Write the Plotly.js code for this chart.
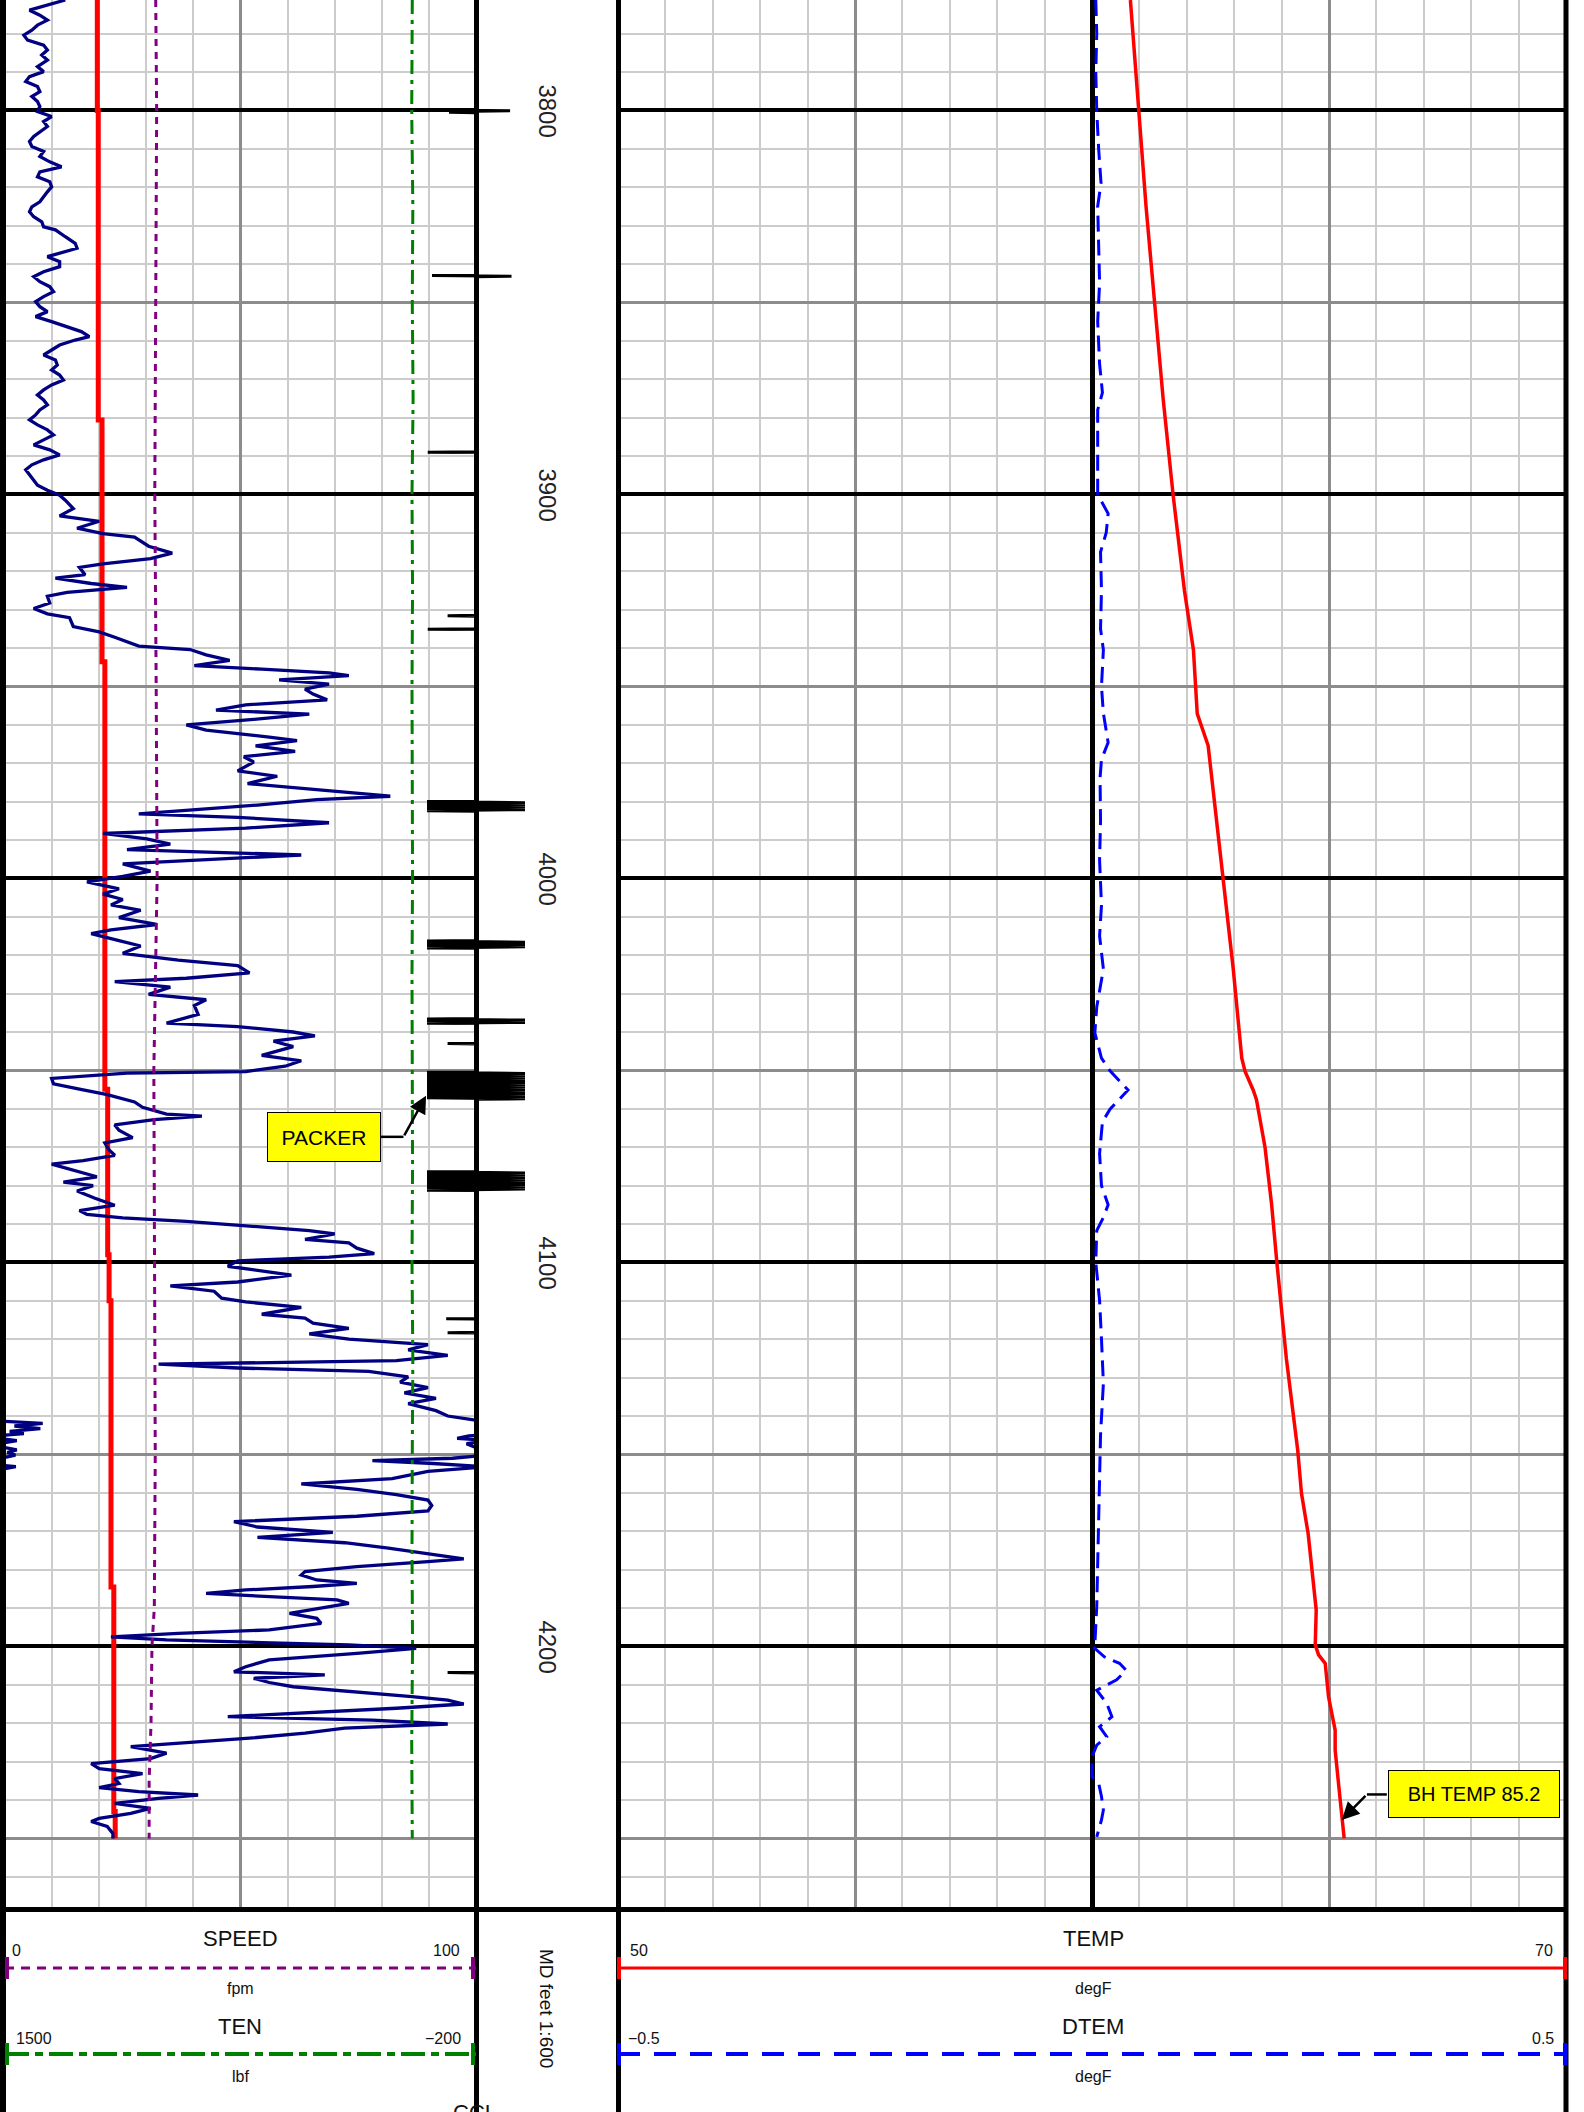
<!DOCTYPE html>
<html><head><meta charset="utf-8">
<script src="https://cdn.plot.ly/plotly-3.0.1.min.js"></script>
<style>html,body{margin:0;padding:0;background:#fff;}#chart{width:1584px;height:2112px;}</style>
</head><body><div id="chart"></div>
<script>
const depthTicks = [3800, 3900, 4000, 4100, 4200];

// navy curve in left track (0-100 track units)
const grDepth = [3771.25,3772.6,3773.9,3775.2,3776.5,3777.8,3779.1,3780.4,3781.7,3783.0,3784.3,3785.6,3786.9,3788.6,3789.9,3791.2,3792.5,3793.8,3795.1,3796.4,3797.7,3799.0,3800.3,3801.6,3802.9,3804.2,3805.5,3806.8,3808.1,3809.4,3810.7,3812.0,3813.4,3814.7,3816.0,3817.3,3818.6,3819.9,3821.2,3822.5,3823.8,3825.1,3826.4,3827.7,3829.0,3830.3,3831.1,3832.9,3834.6,3835.9,3837.2,3838.1,3839.4,3840.7,3842.0,3843.3,3844.6,3845.9,3847.2,3848.5,3849.8,3851.1,3852.4,3853.7,3855.0,3856.3,3857.6,3858.9,3859.8,3861.1,3862.4,3863.7,3865.0,3866.3,3867.6,3868.9,3870.2,3871.5,3872.8,3874.1,3875.4,3876.7,3878.0,3879.3,3880.6,3881.9,3883.2,3884.5,3885.8,3887.1,3888.4,3889.7,3891.0,3892.3,3893.6,3894.9,3896.3,3897.6,3898.9,3900.2,3901.5,
3903.7,3905.6,3907.0,3908.8,3910.2,3911.1,3913.5,3915.3,3916.7,3918.1,3919.0,3920.9,3921.8,3923.2,3924.2,3925.5,3926.5,3928.3,3929.7,3931.1,3932.1,3934.4,3935.8,3937.2,3939.5,3940.4,3941.8,3943.2,3944.6,3945.5,3946.5,3947.2,3948.3,3949.4,3950.7,3952.0,3953.5,3954.8,3956.2,3957.2,3958.6,3960.0,3961.4,3963.2,3964.1,3965.5,3966.9,3968.3,3969.7,3972.0,3973.4,3975.3,3977.2,3978.6,3979.5,3980.9,3983.2,3984.1,3985.5,3986.9,3988.3,3989.7,3991.1,3992.5,3993.9,3994.8,3996.2,3998.1,3999.5,4000.9,4002.7,4004.1,4005.5,4006.9,4008.3,4010.2,4012.0,4013.4,4014.4,4016.2,4017.6,4019.5,4021.3,4022.7,4024.6,4026.0,4026.9,4028.3,4030.2,4031.6,
4033.1,4035.4,4037.7,4038.6,4040.0,4041.0,4042.4,4043.8,4046.1,4047.5,4048.9,4050.3,4050.7,4052.1,4053.5,4054.9,4056.3,4058.2,4059.6,4061.4,4061.9,4062.8,4064.2,4065.6,4067.5,4068.9,4070.7,4072.1,4073.5,4074.4,4076.3,4077.7,4079.1,4080.0,4081.4,4083.3,4085.1,4086.5,4087.5,4088.4,4089.3,4090.3,4091.7,4092.6,4094.0,4094.9,4096.3,4097.7,4098.6,4099.6,4101.0,4103.3,4105.1,4106.1,4107.5,4109.3,4110.3,4111.7,4113.5,4114.5,4115.8,4117.2,4118.6,4120.0,4121.4,4122.8,4124.2,4125.6,4126.5,4127.5,4128.4,4129.8,4131.2,4132.6,4134.0,4135.4,4136.8,4138.6,4140.0,
4141.0,4141.9,4142.6,4143.3,4144.0,4144.6,4145.2,4145.8,4146.4,4147.2,4148.0,4148.8,4149.5,4150.2,4151.0,4151.6,4152.3,4153.2,4154.4,4156.3,4157.7,4159.1,4160.5,4161.9,4163.3,4164.7,4166.1,4167.5,4168.9,4170.3,4171.6,4173.0,4174.4,4175.8,4177.2,
4177.9,4179.2,4180.5,4181.4,4182.7,4183.6,4184.4,4185.3,4186.2,4187.1,4187.9,4188.8,4190.1,4191.4,4192.7,4194.0,4195.7,4196.6,4197.5,4198.3,4199.0,4199.6,4200.5,4201.8,4203.5,4205.3,4206.6,4207.4,4208.3,4209.4,4210.5,4211.8,4213.1,4214.0,4215.0,4216.1,4217.4,4218.3,4219.2,4220.2,4221.3,4222.6,4223.9,4225.2,4226.1,4227.8,4229.2,4230.5,4231.8,4233.1,4234.4,4235.7,4236.8,4237.8,4238.7,4239.6,4240.9,4242.2,4243.5,4244.8,4245.6,4246.9,4248.7,4250.0];
const grValue = [12.8,9.0,5.2,7.4,9.0,6.9,5.7,4.0,4.8,8.2,9.0,7.8,9.0,6.9,8.2,5.2,4.4,6.9,7.4,5.7,6.9,7.4,6.9,9.9,8.2,9.0,7.4,6.1,5.2,5.7,8.2,7.4,9.5,12.0,7.4,6.9,9.5,9.9,9.0,8.2,7.4,5.7,5.2,6.1,7.8,8.2,10.7,12.8,14.9,15.3,11.6,9.0,11.6,11.6,8.2,6.1,7.4,9.5,10.3,8.2,6.5,7.4,9.0,6.5,9.9,12.8,16.2,17.9,14.9,11.6,9.9,8.2,10.7,11.1,9.9,11.6,12.4,9.9,8.2,6.9,8.2,9.0,7.4,6.5,5.2,6.9,9.0,10.3,8.2,6.1,9.5,11.6,8.2,5.7,4.4,5.2,6.1,6.9,9.0,11.6,12.8,
14.5,11.6,20.0,15.3,20.8,27.5,30.5,35.5,30.9,20.8,15.8,17.0,10.7,18.3,25.9,13.2,9.0,9.5,6.1,9.0,13.7,14.5,20.0,23.3,28.4,39.3,42.7,47.7,40.2,54.5,68.8,73.0,58.2,68.8,63.7,65.4,68.4,51.1,44.8,64.6,52.8,38.5,42.7,56.1,62.0,53.2,61.6,50.7,52.8,49.4,57.8,51.5,67.9,81.8,66.2,53.6,28.4,49.4,68.8,51.1,20.8,30.1,35.1,25.9,62.9,46.9,25.0,30.9,25.0,17.4,24.2,20.8,25.0,22.5,28.8,24.2,32.2,22.5,18.3,24.2,28.8,25.0,36.8,49.4,51.9,38.5,23.3,35.1,30.5,42.7,
40.2,41.0,34.3,49.4,61.2,65.8,57.0,61.2,54.5,62.9,59.5,51.1,25.9,9.9,10.3,15.8,21.7,27.5,29.2,34.3,41.8,31.7,23.3,24.2,27.1,21.2,22.1,23.3,16.6,9.9,15.3,19.5,12.4,18.7,15.3,19.1,23.3,15.8,17.4,25.0,38.5,49.4,64.6,70.0,63.7,73.0,74.7,78.4,68.8,49.4,47.3,60.8,49.4,35.1,44.4,46.0,51.1,62.9,54.5,63.7,65.4,73.0,64.6,73.0,89.8,85.6,94.0,83.1,32.6,49.4,77.2,85.6,83.9,89.8,84.8,91.5,85.6,91.5,94.0,
99.5,108.0,102.0,107.5,101.0,104.0,98.5,96.0,102.5,98.0,99.5,102.5,100.5,102.2,95.0,78.0,90.0,102.3,89.8,82.2,62.9,74.7,83.1,89.8,90.6,89.8,74.7,48.6,53.6,69.6,53.6,72.1,81.4,89.8,97.4,
89.8,74.7,63.7,62.9,66.2,74.7,65.4,51.1,42.7,58.7,70.5,73.0,66.2,60.4,66.2,67.1,56.1,36.8,22.5,34.3,54.5,73.0,87.3,74.7,56.1,51.1,48.6,67.9,52.8,56.1,61.2,74.7,86.4,94.0,97.4,83.1,62.9,47.3,78.0,94.0,72.1,63.7,51.9,35.9,26.7,34.3,30.9,18.3,20.0,29.2,23.3,24.2,20.0,28.4,41.0,32.6,23.3,30.9,26.7,20.0,18.3,21.7,22.9,22.9];

// wrapped part of the navy curve (values above 100 re-enter from the left)
const grWrapDepth = [4141.4,4141.9,4142.6,4143.3,4144.0,4144.6,4145.0,null,4146.0,4146.4,4146.9,null,4148.2,4148.8,4149.5,4150.2,4150.8,null,4152.9,4153.2,4153.7];
const grWrapValue = [0,8.0,2.0,7.5,1.0,4.0,0,null,0,2.5,0,null,0,2.5,0.5,2.2,0,null,0,2.3,0];

// thick red curve in left track (0-100 track units)
const redDepth = [3771.25,3800,3880.6,3943.6,4054.9,4098,4110,4184.5,4243,4250];
const redValue = [19.6,19.8,20.6,21.2,21.8,22.1,22.5,23.1,23.4,23.4];

// SPEED (fpm, 0-100)
const speedDepth = [3771.25,3800,3850,3900,3950,4000,4050,4100,4150,4190,4200,4220,4235,4250];
const speedValue = [32.0,32.2,32.0,31.8,32.1,32.3,31.6,31.8,31.9,31.7,31.2,31.0,30.6,30.6];

// TEN (lbf, 1500 .. -200)
const tenDepth = [3771.25,3800,3825,3850,3875,3900,3925,3950,3975,4000,4025,4050,4075,4100,4125,4150,4175,4200,4225,4250];
const tenValue = [30,32,28,30,27,31,29,31,30,29,31,30,29,31,28,30,31,29,32,30];

// TEMP (degF, 50 .. 70)
const tempDepth = [3771.25,3800,3825,3850,3875,3900,3925,3940.5,3957.1,3965.4,3999.8,4023.6,4046.8,4050.3,4055.1,4057.6,4070,4085,4100,4125,4148.9,4160.2,4170.6,4183.6,4190.5,4199.6,4202.2,4204.4,4213.1,4221.8,4227,4235.6,4244.3,4250];
const tempValue = [60.81,60.98,61.14,61.32,61.50,61.71,61.95,62.14,62.22,62.45,62.77,62.98,63.16,63.23,63.40,63.47,63.65,63.79,63.90,64.10,64.34,64.42,64.56,64.67,64.73,64.71,64.78,64.92,64.99,65.13,65.13,65.20,65.27,65.32];

// DTEM (degF, -0.5 .. 0.5)
const dtemDepth = [3771.25,3780,3790,3800,3810,3818.9,3825,3835,3845,3855,3866,3873.5,3878,3890,3900,3905,3910,3915,3925,3935,3940.5,3950,3957,3964.6,3969,3973.8,3985,3995.3,4007,4015,4023.6,4033.5,4040.2,4046.8,4050.1,4055.1,4057.6,4060.1,4063.4,4071.7,4080,4085,4088.3,4091.7,4100,4109.9,4120,4131.5,4145,4156.4,4170,4189.6,4199.6,4200.1,4202.7,4204.4,4206.2,4208.7,4211.4,4214.8,4218.3,4220.9,4223.5,4225.7,4228.7,4233.9,4235.6,4239.1,4242.6,4245.2,4249.6];
const dtemValue = [0.004,0.005,0.004,0.005,0.007,0.0095,0.006,0.007,0.008,0.006,0.008,0.011,0.006,0.006,0.006,0.017,0.015,0.009,0.010,0.009,0.012,0.010,0.012,0.017,0.010,0.0085,0.009,0.008,0.010,0.008,0.012,0.005,0.003,0.010,0.019,0.038,0.029,0.019,0.011,0.008,0.010,0.017,0.012,0.005,0.004,0.008,0.010,0.012,0.009,0.008,0.007,0.005,0.003,0.001,0.013,0.029,0.036,0.026,0.005,0.0155,0.021,0.008,0.0155,0.005,0.0,0.0,0.007,0.010,0.012,0.010,0.005];

// CCL (collar marks, arbitrary units, centred on the track border)
const cclDepth = [3771.25,
 3799.8,3799.9,3800.0,3800.1,3800.2,3800.5,3800.6,
 3842.9,3843.0,3843.1,3843.2,3843.3,
 3888.9,3889.0,3889.1,
 3931.5,3931.6,3931.7,
 3935.0,3935.1,3935.2,
 3979.9,3980.0,3980.3,3980.6,3980.9,3981.2,3981.5,3981.8,3982.1,3982.4,3982.5,
 4016.2,4016.3,4016.6,4016.9,4017.2,4017.5,4017.8,4018.1,4018.2,
 4036.5,4036.6,4036.9,4037.2,4037.5,4037.7,4037.8,
 4042.9,4043.0,4043.1,
 4050.4,4050.5,4050.8,4051.1,4051.4,4051.7,4052.0,4052.3,4052.6,4052.9,4053.2,4053.5,4053.8,4054.1,4054.4,4054.7,4055.0,4055.3,4055.6,4055.9,4056.2,4056.5,4056.8,4057.1,4057.4,4057.5,
 4076.3,4076.4,4076.7,4077.0,4077.3,4077.6,4077.9,4078.2,4078.5,4078.8,4079.1,4079.4,4079.7,4080.0,4080.3,4080.6,4080.9,4081.2,4081.3,
 4114.6,4114.7,4114.8,
 4118.2,4118.3,4118.4,
 4206.7,4206.8,4206.9,
 4250];
const cclValue = [0,
 0,-2.5,0,2.4,0,-1.9,0,
 0,-3.1,0,2.5,0,
 0,-3.4,0,
 0,-2.0,0,
 0,-3.4,0,
 0,-3.45,3.45,-3.45,3.45,-3.45,3.45,-3.45,3.45,-3.45,0,
 0,-3.45,3.45,-3.45,3.45,-3.45,3.45,-3.45,0,
 0,-3.45,3.45,-3.45,3.45,-3.45,0,
 0,-2.0,0,
 0,-3.45,3.45,-3.45,3.45,-3.45,3.45,-3.45,3.45,-3.45,3.45,-3.45,3.45,-3.45,3.45,-3.45,3.45,-3.45,3.45,-3.45,3.45,-3.45,3.45,-3.45,3.45,0,
 0,-3.45,3.45,-3.45,3.45,-3.45,3.45,-3.45,3.45,-3.45,3.45,-3.45,3.45,-3.45,3.45,-3.45,3.45,-3.45,0,
 0,-2.1,0,
 0,-2.0,0,
 0,-2.0,0,
 0];

// ---------- LAYOUT ----------
const W = 1584, H = 2112;
const px = v => v / W;
const py = v => 1 - v / H;
const yRange = [4267.86, 3771.25];
const yDom = [py(1907), 1];
const FONT = 'Liberation Sans, Arial, sans-serif';
const LIGHT = '#cccccc', DARK = '#8c8c8c';

const hidden = {showticklabels:false, ticks:'', zeroline:false, showline:false, fixedrange:true};

const traces = [
  {x:redValue, y:redDepth, xaxis:'x', yaxis:'y', mode:'lines', line:{color:'#ff0000', width:5, shape:'vh'}},
  {x:grValue, y:grDepth, xaxis:'x', yaxis:'y', mode:'lines', line:{color:'#000080', width:3.3}},
  {x:grWrapValue, y:grWrapDepth, xaxis:'x', yaxis:'y', mode:'lines', connectgaps:false, line:{color:'#000080', width:3.3}},
  {x:tenValue, y:tenDepth, xaxis:'x3', yaxis:'y', mode:'lines', line:{color:'#008000', width:3, dash:'14px,6px,4px,6px'}},
  {x:speedValue, y:speedDepth, xaxis:'x', yaxis:'y3', mode:'lines', line:{color:'#800080', width:3, dash:'7px,6px'}},
  {x:tempValue, y:tempDepth, xaxis:'x2', yaxis:'y', mode:'lines', line:{color:'#ff0000', width:3.5}},
  {x:dtemValue, y:dtemDepth, xaxis:'x4', yaxis:'y3', mode:'lines', line:{color:'#0000ff', width:3, dash:'16px,8px'}},
  {x:cclValue, y:cclDepth, xaxis:'x5', yaxis:'y4', mode:'lines', line:{color:'#000000', width:3}}
];

const ann = [];
depthTicks.forEach(d => ann.push({xref:'paper', yref:'y', x:px(548), y:d, xanchor:'center', yanchor:'middle',
  text:String(d), textangle:90, showarrow:false, font:{family:FONT, size:24, color:'#222'}}));

function hdr(text, x, y, size, anchor) {
  ann.push({xref:'paper', yref:'paper', x:px(x), y:py(y), text:text, showarrow:false,
    xanchor:anchor || 'center', yanchor:'middle', font:{family:FONT, size:size, color:'#111'}});
}
hdr('SPEED', 240, 1938, 22);
hdr('0', 10, 1950, 16, 'left');
hdr('100', 462, 1950, 16, 'right');
hdr('fpm', 240, 1988, 16);
hdr('TEN', 240, 2026, 22);
hdr('1500', 14, 2038, 16, 'left');
hdr('\u2212200', 463, 2038, 16, 'right');
hdr('lbf', 240, 2076, 16);
hdr('TEMP', 1093, 1938, 22);
hdr('50', 628, 1950, 16, 'left');
hdr('70', 1555, 1950, 16, 'right');
hdr('degF', 1093, 1988, 16);
hdr('DTEM', 1093, 2026, 22);
hdr('\u22120.5', 626, 2038, 16, 'left');
hdr('0.5', 1556, 2038, 16, 'right');
hdr('degF', 1093, 2076, 16);
ann.push({xref:'paper', yref:'paper', x:px(547), y:py(2008), xanchor:'center', yanchor:'middle',
  text:'MD feet 1:600', textangle:90, showarrow:false, font:{family:FONT, size:19, color:'#111'}});
ann.push({xref:'paper', yref:'paper', x:px(475), y:py(2099), xanchor:'center', yanchor:'top', borderpad:0,
  text:'CCL', showarrow:false, font:{family:FONT, size:22, color:'#111'}});

// PACKER callout (left track units / depth)
ann.push({xref:'x', yref:'y', x:67.7, y:4067.3, xanchor:'center', yanchor:'middle', text:'PACKER', showarrow:false,
  bgcolor:'#ffff00', bordercolor:'#000', borderwidth:1, borderpad:1, width:110, height:46,
  font:{family:FONT, size:21, color:'#000'}});
ann.push({xref:'x', yref:'y', x:89.4, y:4056.6, axref:'x', ayref:'y', ax:84.6, ay:4067.3, text:'',
  showarrow:true, arrowhead:2, arrowsize:1.4, arrowwidth:2.5, arrowcolor:'#000', standoff:0, startstandoff:0});
// BH TEMP callout (TEMP units / depth)
ann.push({xref:'x2', yref:'y', x:68.05, y:4238.55, xanchor:'center', yanchor:'middle', text:'BH TEMP 85.2',
  showarrow:false, bgcolor:'#ffff00', bordercolor:'#000', borderwidth:1, borderpad:1, width:168, height:44,
  font:{family:FONT, size:20, color:'#000'}});
ann.push({xref:'x2', yref:'y', x:65.27, y:4245.2, axref:'x2', ayref:'y', ax:65.80, ay:4238.55, text:'',
  showarrow:true, arrowhead:2, arrowsize:1.4, arrowwidth:2.5, arrowcolor:'#000', standoff:0, startstandoff:0});

const shp = [];
function pline(x0, y0, x1, y1, color, width, dash) {
  shp.push({type:'line', xref:'paper', yref:'paper', x0:px(x0), x1:px(x1), y0:py(y0), y1:py(y1),
    line:{color:color, width:width, dash:dash || 'solid'}});
}
// leaders of the callouts
shp.push({type:'line', xref:'x', yref:'y', x0:79.8, x1:84.6, y0:4067.3, y1:4067.3, line:{color:'#000', width:2.5}});
shp.push({type:'line', xref:'x2', yref:'y', x0:66.22, x1:65.80, y0:4238.55, y1:4238.55, line:{color:'#000', width:2.5}});
// frame
pline(3, 0, 3, 2112, '#000', 6);
pline(476.5, 0, 476.5, 2112, '#000', 5);
pline(618.5, 0, 618.5, 2112, '#000', 5);
pline(1566, 0, 1566, 2112, '#000', 5);
pline(0, 1909.5, 1568, 1909.5, '#000', 5);
// header legend lines
pline(5, 1968, 476, 1968, '#800080', 3, '9px,7px');
pline(7, 1957, 7, 1979, '#800080', 4);
pline(473, 1957, 473, 1979, '#800080', 4);
pline(5, 2054, 476, 2054, '#008000', 4, '24px,6px,8px,6px');
pline(7, 2043, 7, 2065, '#008000', 4);
pline(473, 2043, 473, 2065, '#008000', 4);
pline(618, 1968, 1566, 1968, '#ff0000', 3);
pline(619, 1957, 619, 1979, '#ff0000', 4);
pline(1565, 1957, 1565, 1979, '#ff0000', 4);
pline(618, 2054, 1566, 2054, '#0000ff', 4, '22px,14px');
pline(619, 2043, 619, 2065, '#0000ff', 4);
pline(1565, 2043, 1565, 2065, '#0000ff', 4);

const layout = {
  width:W, height:H, autosize:false,
  margin:{l:0, r:0, t:0, b:0, pad:0},
  paper_bgcolor:'#ffffff', plot_bgcolor:'rgba(0,0,0,0)',
  showlegend:false, hovermode:false,
  font:{family:FONT},
  xaxis: Object.assign({domain:[px(5), px(476)], range:[0,100], anchor:'y', showgrid:true, dtick:50, tick0:0,
    gridcolor:DARK, gridwidth:3, minor:{dtick:10, showgrid:true, gridcolor:LIGHT, gridwidth:2}}, hidden),
  xaxis2: Object.assign({domain:[px(618), px(1566)], range:[50,70], anchor:'y', showgrid:true, dtick:5, tick0:50,
    gridcolor:DARK, gridwidth:3, minor:{dtick:1, showgrid:true, gridcolor:LIGHT, gridwidth:2}}, hidden),
  xaxis3: Object.assign({overlaying:'x', range:[1500,-200], anchor:'y', showgrid:false}, hidden),
  xaxis4: Object.assign({overlaying:'x2', range:[-0.5,0.5], anchor:'y', showgrid:false}, hidden,
    {zeroline:true, zerolinecolor:'#000', zerolinewidth:5}),
  xaxis5: Object.assign({domain:[px(334), px(618)], range:[-10,10], anchor:'y4', showgrid:false}, hidden),
  yaxis: Object.assign({domain:yDom, range:yRange, anchor:'x', showgrid:true, dtick:50, tick0:0,
    gridcolor:DARK, gridwidth:3, minor:{dtick:10, showgrid:true, gridcolor:LIGHT, gridwidth:2}}, hidden),
  yaxis3: Object.assign({overlaying:'y', range:yRange, anchor:'x', showgrid:true, dtick:100, tick0:0,
    gridcolor:'#000000', gridwidth:4}, hidden),
  yaxis4: Object.assign({domain:yDom, range:yRange, anchor:'x5', showgrid:false}, hidden),
  annotations: ann,
  shapes: shp
};

Plotly.newPlot('chart', traces, layout, {staticPlot:true, displayModeBar:false});
</script></body></html>
